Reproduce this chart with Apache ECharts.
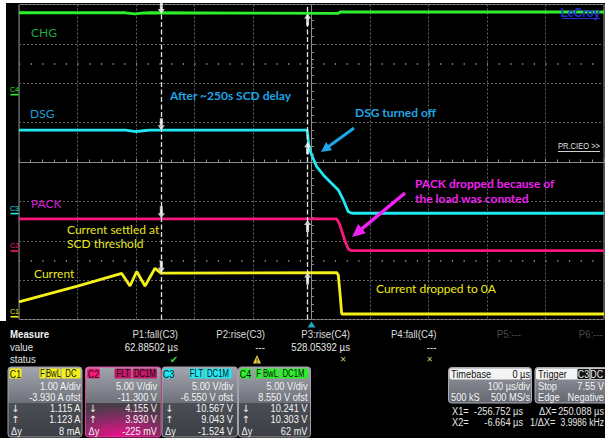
<!DOCTYPE html>
<html><head><meta charset="utf-8">
<script src="https://cdn.jsdelivr.net/npm/echarts@6/dist/echarts.min.js"></script>
<style>html,body{margin:0;padding:0;background:#000;overflow:hidden}#c{width:605px;height:438px}</style>
</head><body><div id="c"></div>
<script>
// ---------------- data read from the scope screen ----------------
// time in microseconds, values in the channel's own unit
const chgTime = [-500, -318, -302, -290, -276, 46, 49, 500];
const chgVolt = [10.40, 10.40, 10.27, 10.36, 10.40, 10.33, 10.50, 10.50];

const dsgTime = [-500, -318, -300, -288, -276, -7.5, -4.5, 0.3, 8.9, 20.2, 31.6, 45.8, 54.4, 62.9, 69.2, 500];
const dsgVolt = [10.61, 10.61, 10.42, 10.52, 10.61, 10.61, 8.55, 7.44, 5.95, 4.90, 4.05, 3.00, 1.73, 0.24, 0.04, 0.04];

const packTime = [-500, 43.1, 47.9, 57.3, 62.9, 67.5, 500];
const packVolt = [4.08, 4.08, 3.43, 1.27, 0.25, 0.04, 0.04];

const curTime = [-500, -400, -324.4, -310.3, -298.8, -284.6, -267.5, -257.3, 43.1, 45.8, 48.7, 51.6, 500];
const curAmp  = [0.38, 0.78, 1.10, 0.78, 1.15, 0.78, 1.23, 1.11, 1.12, 1.06, 0.60, 0.07, 0.07];

const cursorTime = [-256.752, -6.664];
const c1Read = [1.115, 1.123];
const c2Read = [4.155, 3.930];
const c3Read = [10.567, 9.043];
const c4Read = [10.241, 10.303];

const chNames = ['C1', 'C2', 'C3', 'C4'];
const chUnits = ['A', 'V', 'V', 'V'];
const chScale = [1.00, 5.00, 5.00, 5.00];
const chOffset = [-3.930, -11.300, -6.550, 8.550];

const measureName = ['P1:fall(C3)', 'P2:rise(C3)', 'P3:rise(C4)', 'P4:fall(C4)', 'P5:---', 'P6:---'];
const measureValue = ['62.88502 µs', '---', '528.05392 µs', '---', '', ''];
const measureStatus = ['ok', 'warn', 'x', 'x', '', ''];

// ---------------- drawing ----------------
const chart = echarts.init(document.getElementById('c'), null, {renderer: 'svg'});
const UI = '"Liberation Sans",Arial,sans-serif';
const ANN = 'Lato,"Open Sans",sans-serif';
const SYM = '"DejaVu Sans",sans-serif';
const chColor = ['#f4f01a', '#f8187c', '#22e8f2', '#2cf02c'];
const reads = [c1Read, c2Read, c3Read, c4Read];

const g = [];
function txt(x, y, s, o = {}) {
  const fam = o.family || UI;
  const el = {type: 'text', x, y, z: o.z ?? 100, silent: true,
    style: {text: s, fill: o.color || '#d8d8d8', fontSize: o.size || 11, fontFamily: fam,
      fontWeight: o.weight || 'normal', align: o.align || 'left', verticalAlign: 'middle'}};
  if (fam === UI) el.scaleX = o.sx || 0.84;   // narrow instrument font
  g.push(el);
}
function rect(x, y, w, h, fill, o = {}) {
  g.push({type: 'rect', z: o.z ?? 50, silent: true, shape: {x, y, width: w, height: h, r: o.r || 0},
    style: {fill: fill, stroke: o.stroke || null, lineWidth: o.lw || 1}});
}
function poly(points, fill, z = 100) { g.push({type: 'polygon', z, silent: true, shape: {points}, style: {fill}}); }
function line(x1, y1, x2, y2, color, w = 1, z = 100) {
  g.push({type: 'line', z, silent: true, shape: {x1, y1, x2, y2}, style: {stroke: color, lineWidth: w}});
}
function arrow(x1, y1, x2, y2, color, w, hl, hw) {
  const dx = x2 - x1, dy = y2 - y1, L = Math.hypot(dx, dy), ux = dx / L, uy = dy / L, nx = -uy, ny = ux;
  const bx = x2 - ux * hl, by = y2 - uy * hl;
  line(x1, y1, bx + ux, by + uy, color, w);
  poly([[x2, y2], [bx + nx * hw / 2, by + ny * hw / 2], [bx - nx * hw / 2, by - ny * hw / 2]], color);
}
const grad = (a, b) => ({type: 'linear', x: 0, y: 0, x2: 0, y2: 1, colorStops: [{offset: 0, color: a}, {offset: 1, color: b}]});

// white frame strips of the screenshot
rect(0, 0, 605, 3, '#ffffff', {z: 200});
rect(0, 0, 6, 321, '#ffffff', {z: 200});

// annotations on the screen
txt(31, 32, 'CHG', {family: ANN, size: 12, color: '#22a847'});
txt(30, 113, 'DSG', {family: ANN, size: 12, color: '#1c9ed8'});
txt(170, 95, 'After ~250s SCD delay', {family: ANN, size: 12, weight: 'bold', color: '#1ea6e6'});
txt(355, 112, 'DSG turned off', {family: ANN, size: 12, weight: 'bold', color: '#1ea6e6'});
arrow(354, 128, 321, 152, '#1ea6e6', 3, 10, 10);
txt(31, 203, 'PACK', {family: ANN, size: 12, color: '#d41cd4'});
txt(67, 229, 'Current settled at', {family: ANN, size: 12, color: '#e8e61e'});
txt(67, 243, 'SCD threshold', {family: ANN, size: 12, color: '#e8e61e'});
txt(34, 273, 'Current', {family: ANN, size: 12, color: '#e8e61e'});
txt(415, 183, 'PACK dropped because of', {family: ANN, size: 12, weight: 'bold', color: '#f020f0'});
txt(415, 198, 'the load was connted', {family: ANN, size: 12, weight: 'bold', color: '#f020f0'});
arrow(405, 193, 352, 237, '#f020f0', 3.5, 13, 12);
txt(376, 288, 'Current dropped to 0A', {family: ANN, size: 12, color: '#f0ea10'});

// LeCroy logo and label at right
txt(600, 12.5, 'LeCroy', {size: 12, weight: 'bold', color: '#2434d8', align: 'right', sx: 0.95});
line(562, 18.5, 600, 18.5, '#2434d8', 1);
txt(600, 146, 'PR.CIEO >>', {size: 9, color: '#e0e0e0', align: 'right'});
line(558, 151.5, 600, 151.5, '#d0d0d0', 1);

// ---------------- measurement panel ----------------
txt(10, 334, 'Measure', {weight: 'bold', color: '#f2f2f2', size: 11.5});
txt(10, 347, 'value', {color: '#e0e0e0', size: 11.5});
txt(10, 359, 'status', {color: '#e0e0e0', size: 11.5});
const mRight = [178, 265, 350, 436.5, 521, 603];
measureName.forEach((n, i) => {
  const grey = n.indexOf('---') > 0;
  txt(mRight[i], 334, n, {align: 'right', color: grey ? '#4a4a4a' : '#dcdcdc', size: 11.5});
  if (measureValue[i]) txt(mRight[i], 347, measureValue[i], {align: 'right', color: '#e6e6e6', size: 11.5});
  const sx = mRight[i] - 3;
  if (measureStatus[i] === 'ok') txt(sx - 1, 359, '✔', {align: 'center', color: '#3ed43e', size: 10, family: SYM});
  if (measureStatus[i] === 'warn') { poly([[sx - 9, 363.5], [sx - 1, 363.5], [sx - 5, 355]], '#e8d040'); txt(sx - 5, 360.5, '!', {align: 'center', color: '#000', size: 7, weight: 'bold'}); }
  if (measureStatus[i] === 'x') txt(sx - 4, 359, '✕', {align: 'center', color: '#c9c070', size: 8, family: SYM});
});

// channel boxes
const boxX = [8, 85.5, 162, 238.5], boxW = [74, 75.5, 75.5, 72], rightX = [80.5, 157, 233, 307.5];
const badgeSpec = [
  [['F', 39.5, 6], ['BwL', 46.5, 14], ['DC', 61.5, 19]],
  [['FLT', 114.5, 17], ['DC1M', 132.5, 24.5]],
  [['FLT', 189.5, 14], ['DC1M', 204.5, 27]],
  [['F', 255.5, 6.5], ['BwL', 263, 15], ['DC1M', 279, 29]]
];
const nameW = [12, 13, 10.5, 11];
function fmtVal(v, u) { return v.toFixed(3) + ' ' + u; }
function fmtDelta(d, u) { return Math.abs(d) < 1 ? Math.round(d * 1000) + ' m' + u : d.toFixed(3) + ' ' + u; }
for (let i = 0; i < 4; i++) {
  const x = boxX[i], w = boxW[i], rx = rightX[i], u = chUnits[i];
  rect(x, 367, w, 36, grad('#a3a6ae', '#6e7179'), {r: [3, 3, 0, 0], z: 40});
  const botFill = i === 1
    ? {type: 'radial', x: 0.45, y: 1, r: 0.9, colorStops: [{offset: 0, color: '#f0108c'}, {offset: 0.6, color: '#8a2a66'}, {offset: 1, color: '#4a3d48'}]}
    : grad('#4c4e55', '#3c3e44');
  rect(x, 403, w, 34, botFill, {r: [0, 0, 3, 3], z: 40});
  rect(x, 367, w, 70, null, {r: 3, stroke: i === 1 ? '#e0409a' : '#a0a3ab', z: 45});
  // badges
  rect(x + 1.5, 368.5, nameW[i], 10, chColor[i], {r: 1.5, z: 60});
  txt(x + 1.5 + nameW[i] / 2, 374, chNames[i], {align: 'center', color: '#111', size: 10.5, z: 61});
  badgeSpec[i].forEach(([lab, bx, bw]) => {
    rect(bx, 368.5, bw, 10, i === 1 ? '#c4186a' : chColor[i], {r: 1, z: 60});
    txt(bx + bw / 2, 374, lab, {align: 'center', color: '#111', size: 10, z: 61, sx: 0.78});
  });
  txt(rx, 386, chScale[i].toFixed(2) + ' ' + u + '/div', {align: 'right', color: '#f4f4f4', z: 61});
  let off = fmtVal(chOffset[i], u);
  if (off.length <= 8) off += ' ofst';
  txt(rx, 397, off, {align: 'right', color: '#f4f4f4', z: 61});
  const r = reads[i];
  txt(x + 3, 408, '↓', {color: '#f0f0f0', z: 61, size: 10, family: SYM});
  txt(x + 3, 419.5, '↑', {color: '#f0f0f0', z: 61, size: 10, family: SYM});
  txt(x + 3, 431, 'Δy', {color: '#f0f0f0', z: 61});
  txt(rx, 408, fmtVal(r[0], u), {align: 'right', color: '#f4f4f4', z: 61});
  txt(rx, 419.5, fmtVal(r[1], u), {align: 'right', color: '#f4f4f4', z: 61});
  txt(rx, 431, fmtDelta(r[1] - r[0], u), {align: 'right', color: '#f4f4f4', z: 61});
}

// timebase & trigger boxes
rect(448.5, 367.5, 83, 35.5, grad('#979aa2', '#64676f'), {r: 3, stroke: '#a9acb3', z: 40});
rect(449.5, 368.5, 81, 11, '#f4f4f4', {r: 2, z: 45});
txt(451, 374, 'Timebase', {color: '#111', z: 61});
txt(530, 374, '0 µs', {color: '#111', align: 'right', z: 61});
txt(530, 386, '100 µs/div', {color: '#f4f4f4', align: 'right', z: 61});
txt(451, 397.5, '500 kS', {color: '#f4f4f4', z: 61});
txt(530, 397.5, '500 MS/s', {color: '#f4f4f4', align: 'right', z: 61});

rect(535, 367.5, 74, 35.5, grad('#979aa2', '#64676f'), {r: 3, stroke: '#a9acb3', z: 40});
rect(536, 368.5, 72, 11, '#f4f4f4', {r: 2, z: 45});
txt(538, 374, 'Trigger', {color: '#111', z: 61});
rect(577.5, 369, 12, 10, '#111', {r: 1, z: 60});
txt(583.5, 374, 'C3', {color: '#eee', align: 'center', size: 10.5, z: 61});
rect(590.5, 369, 17, 10, '#111', {r: 1, z: 60});
txt(603, 374, 'DC', {color: '#eee', size: 10.5, z: 61, align: 'right'});
txt(538, 386, 'Stop', {color: '#f4f4f4', z: 61});
txt(604, 386, '7.55 V', {color: '#f4f4f4', align: 'right', z: 61});
txt(538, 397.5, 'Edge', {color: '#f4f4f4', z: 61});
txt(604, 397.5, 'Negative', {color: '#f4f4f4', align: 'right', z: 61});

// cursor readouts
const dX = cursorTime[1] - cursorTime[0];
txt(452, 411, 'X1=', {color: '#e6e6e6'});
txt(523, 411, cursorTime[0].toFixed(3) + ' µs', {color: '#e6e6e6', align: 'right'});
txt(452, 422.5, 'X2=', {color: '#e6e6e6'});
txt(523, 422.5, cursorTime[1].toFixed(3) + ' µs', {color: '#e6e6e6', align: 'right'});
txt(539, 411, 'ΔX=', {color: '#e6e6e6'});
txt(604, 411, dX.toFixed(3) + ' µs', {color: '#e6e6e6', align: 'right'});
txt(530, 422.5, '1/ΔX=', {color: '#e6e6e6'});
txt(604, 422.5, (1000 / dX).toFixed(4) + ' kHz', {color: '#e6e6e6', align: 'right', sx: 0.78});

// ---------------- chart option ----------------
const tickColor = '#8c8c8c';
const yAxes = [{
  type: 'value', min: -4, max: 4, interval: 1, axisLabel: {show: false},
  axisLine: {show: true, onZero: true, lineStyle: {color: tickColor}},
  axisTick: {show: true, inside: true, length: 3, lineStyle: {color: tickColor}},
  minorTick: {show: true, splitNumber: 5, length: 2.5, lineStyle: {color: tickColor}},
  splitLine: {show: true, lineStyle: {color: '#626262', type: [2, 2]}}
}];
for (let i = 0; i < 4; i++) {
  yAxes.push({type: 'value', show: false, min: -chOffset[i] - 4 * chScale[i], max: -chOffset[i] + 4 * chScale[i]});
}

const traces = [
  {name: 'CHG', t: chgTime, v: chgVolt, ch: 3},
  {name: 'DSG', t: dsgTime, v: dsgVolt, ch: 2},
  {name: 'PACK', t: packTime, v: packVolt, ch: 1},
  {name: 'Current', t: curTime, v: curAmp, ch: 0}
];
const DOWN = 'path://M2,0L5,0L5,7L7,7L3.5,12L0,7L2,7Z';
const UP = 'path://M3.5,0L7,5L5,5L5,12L2,12L2,5L0,5Z';

const series = [{
  type: 'scatter', xAxisIndex: 0, yAxisIndex: 0, data: [[0, -4]], symbol: 'triangle',
  symbolSize: [8, 6], symbolOffset: [0, 5], itemStyle: {color: '#2ad0f0'}, clip: false, silent: true, z: 2,
  markLine: {
    silent: true, symbol: ['none', 'none'], label: {show: false}, animation: false,
    data: [
      {yAxis: 2.5, lineStyle: {color: '#7a7a7a', type: [1.2, 10.5], width: 2}},
      {yAxis: -2.5, lineStyle: {color: '#7a7a7a', type: [1.2, 10.5], width: 2}},
      ...cursorTime.map(t => ({xAxis: t, lineStyle: {color: '#e6e6e6', type: [5, 2.5], width: 1.3}}))
    ]
  }
}];
traces.forEach(d => {
  const c = chColor[d.ch];
  series.push({
    type: 'line', name: d.name, xAxisIndex: 0, yAxisIndex: d.ch + 1,
    data: d.t.map((t, i) => [t, d.v[i]]), showSymbol: false, symbol: 'none',
    lineStyle: {color: c, width: 2.8}, itemStyle: {color: c}, z: 3, silent: true,
    markPoint: {
      silent: true, animation: false, symbol: 'rect', symbolSize: [8, 1.6], symbolOffset: [-4.5, 0],
      itemStyle: {color: c},
      label: {show: true, position: 'top', distance: 1, formatter: chNames[d.ch], fontSize: 7, color: c, fontFamily: UI},
      data: [{coord: [-500, 0]}]
    }
  });
  const r = reads[d.ch];
  series.push({
    type: 'scatter', xAxisIndex: 0, yAxisIndex: d.ch + 1, silent: true, z: 10, clip: false,
    itemStyle: {color: '#ffffff'},
    data: [
      {value: [cursorTime[0], r[0]], symbol: DOWN, symbolSize: [7, 12], symbolOffset: [0, -6]},
      {value: [cursorTime[1], r[1]], symbol: UP, symbolSize: [7, 12], symbolOffset: [0, 6]}
    ]
  });
});

chart.setOption({
  animation: false,
  backgroundColor: '#000000',
  grid: {left: 19, top: 4.5, width: 585, height: 315, show: true, borderColor: '#8f8f8f', borderWidth: 1},
  xAxis: {
    type: 'value', min: -500, max: 500, interval: 100, axisLabel: {show: false},
    axisLine: {show: true, onZero: true, onZeroAxisIndex: 0, lineStyle: {color: tickColor}},
    axisTick: {show: true, inside: true, length: 3, lineStyle: {color: tickColor}},
    minorTick: {show: true, splitNumber: 5, length: 2.5, lineStyle: {color: tickColor}},
    splitLine: {show: true, lineStyle: {color: '#626262', type: [2, 2]}}
  },
  yAxis: yAxes,
  series: series,
  graphic: g
});
</script></body></html>
